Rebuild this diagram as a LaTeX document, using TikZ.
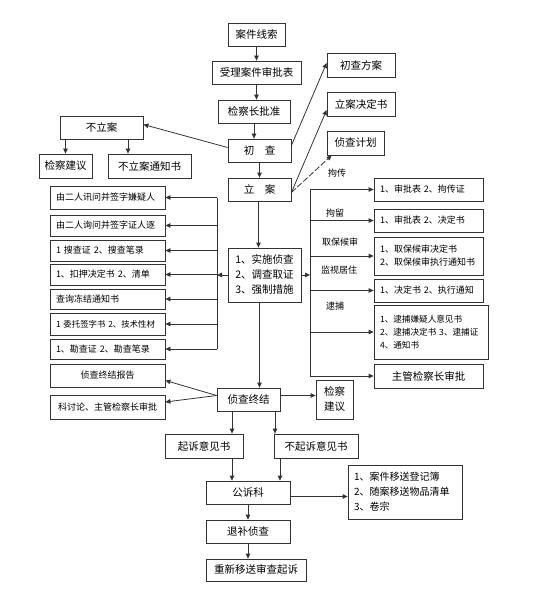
\documentclass[tikz,border=0pt]{standalone}
\usepackage{fontspec}
\setmainfont{Noto Sans CJK SC}
\usetikzlibrary{arrows.meta, calc}

\tikzset{
  box/.style={draw=black!80, line width=0.8pt, inner sep=2pt, align=center,
    font=\fontsize{10.5}{15}\selectfont},
  listbox/.style={box, align=left, inner xsep=6pt, font=\fontsize{9}{13}\selectfont},
  arr/.style={draw=black!80, line width=0.8pt, -{Triangle[length=5pt, width=4.5pt]}},
  bus/.style={draw=black!80, line width=0.8pt},
  tag/.style={font=\fontsize{9}{11}\selectfont, inner sep=1pt},
}

\begin{document}
\begin{tikzpicture}[x=1pt, y=-1pt]
\useasboundingbox (0,0) rectangle (535,604);

% main chain from the clue down to the filing
\node[box, minimum width=57, minimum height=23] (xiansuo) at (256.5,34.5) {案件线索};
\node[box, minimum width=89, minimum height=23] (shenpi) at (256.5,72.5) {受理案件审批表};
\node[box, minimum width=72, minimum height=23] (pizhun) at (254,111.5) {检察长批准};
\node[box, minimum width=63, minimum height=23] (chucha) at (259.5,150.5) {初\hspace{1em}查};
\node[box, minimum width=63, minimum height=23] (lian) at (259.5,189.5) {立\hspace{1em}案};

\draw[arr] (xiansuo) -- (shenpi);
\draw[arr] (shenpi.south) -- (shenpi.south |- pizhun.north);
\draw[arr] (pizhun.south) -- (pizhun.south |- chucha.north);
\draw[arr] (chucha) -- (lian);

% no filing
\node[box, minimum width=83, minimum height=23] (buli) at (101.5,127.5) {不立案};
\node[box, minimum width=53, minimum height=24] (jianyi1) at (65.5,166) {检察建议};
\node[box, minimum width=83, minimum height=24] (butongzhi) at (149.5,166) {不立案通知书};

\draw[arr] ([yshift=3pt]chucha.west) -- ([yshift=3pt]buli.east);
\draw[arr] (jianyi1.north |- buli.south) -- (jianyi1.north);
\coordinate (b2) at ($(buli.south)+(26.5,0)$);
\draw[arr] (b2) -- (b2 |- butongzhi.north);

% documents on the upper right
\node[box, minimum width=68, minimum height=24] (fangan) at (361,65) {初查方案};
\node[box, minimum width=68, minimum height=24] (juedingshu) at (361,104) {立案决定书};
\node[box, minimum width=57, minimum height=24] (jihua) at (355.5,143) {侦查计划};

\draw[arr] ([yshift=5pt]chucha.east) -- ([yshift=2pt]fangan.west);
\draw[arr] ([yshift=-3pt]lian.east) -- ([yshift=-6pt]juedingshu.west);
\draw[arr, dash pattern=on 6pt off 2pt] ([yshift=-3pt]lian.east) -- ([xshift=5pt]jihua.south west);

% investigation
\node[box, minimum width=73, minimum height=54] (shishi) at (264.5,275)
  {1、实施侦查\\2、调查取证\\3、强制措施};
\draw[arr] ([xshift=-1pt]lian.south) -- ([xshift=-1pt]lian.south |- shishi.north);

% left list of measures
\node[listbox, text width=103, minimum height=23] (l1) at (107.5,197.5) {由二人讯问并签字嫌疑人};
\node[listbox, text width=103, minimum height=21] (l2) at (107.5,225.5) {由二人询问并签字证人逐};
\node[listbox, text width=103, minimum height=21] (l3) at (107.5,250.5) {1~搜查证~2、搜查笔录};
\node[listbox, text width=103, minimum height=21] (l4) at (107.5,274.5) {1、扣押决定书~2、清单};
\node[listbox, text width=103, minimum height=20] (l5) at (107.5,299) {查询冻结通知书};
\node[listbox, text width=103, minimum height=22, font=\fontsize{8.4}{12}\selectfont] (l6) at (107.5,324) {1~委托签字书~2、技术性材};
\node[listbox, text width=103, minimum height=20] (l7) at (107.5,349) {1、勘查证~2、勘查笔录};

\coordinate (lbus) at (217,275);
\draw[arr] (shishi.west) -- (lbus);
\draw[bus] (lbus |- l1.east) -- (lbus |- l7.east);
\foreach \n in {l1,l2,l3,l4,l5,l6,l7}
  \draw[arr] (lbus |- \n.east) -- (\n.east);

% right list of compulsory measures
\node[listbox, text width=97, minimum height=23] (r1) at (428.5,189.5) {1、审批表~2、拘传证};
\node[listbox, text width=97, minimum height=23] (r2) at (428.5,220.5) {1、审批表~2、决定书};
\node[listbox, text width=97, minimum height=38] (r3) at (428.5,256)
  {1、取保候审决定书\\2、取保候审执行通知书};
\node[listbox, text width=97, minimum height=23] (r4) at (428.5,290.5) {1、决定书~2、执行通知};
\node[listbox, text width=102, minimum height=54, font=\fontsize{8.6}{13}\selectfont] (r5) at (431,332)
  {1、逮捕嫌疑人意见书\\2、逮捕决定书~3、逮捕证\\4、通知书};
\node[box, minimum width=109, minimum height=24] (r6) at (428.5,376) {主管检察长审批};

\node[tag] (t1) at (337,173) {拘传};
\node[tag] (t2) at (335,213) {拘留};
\node[tag] (t3) at (340,242) {取保候审};
\node[tag] (t4) at (339,270) {监视居住};
\node[tag] (t5) at (335,306) {逮捕};

\coordinate (rbus) at (310,275);
\draw[arr] (shishi.east) -- (rbus);
\draw[bus] (rbus |- r1.west) -- (rbus |- r6.west);
\foreach \n in {r1,r2,r3,r4,r5,r6}
  \draw[arr] (rbus |- \n.west) -- (\n.west);

% end of investigation
\node[box, minimum width=63, minimum height=23] (zhongjie) at (248.5,399.5) {侦查终结};
\node[box, minimum width=115, minimum height=23, font=\fontsize{9}{13}\selectfont] (baogao) at (107.5,375.5) {侦查终结报告};
\node[box, minimum width=115, minimum height=24, font=\fontsize{9}{13}\selectfont] (taolun) at (107.5,407) {科讨论、主管检察长审批};
\node[box, minimum width=37, minimum height=39] (jianyi2) at (334.5,399.5) {检察\\建议};

\draw[arr] ([xshift=-5pt]shishi.south) -- ([xshift=-5pt]shishi.south |- zhongjie.north);
\draw[arr] ([yshift=4pt]zhongjie.west) -- ([yshift=-5pt]baogao.east);
\draw[arr] ([yshift=4pt]zhongjie.west) -- ([yshift=5pt]taolun.east);
\draw[arr] ([yshift=4pt]zhongjie.east) -- ([yshift=4pt]zhongjie.east -| jianyi2.west);

% prosecution opinions
\node[box, minimum width=78, minimum height=24] (qisu) at (204,446) {起诉意见书};
\node[box, minimum width=84, minimum height=24] (buqisu) at (316,446) {不起诉意见书};
\draw[arr] ([xshift=-16.5pt]zhongjie.south) -- ([xshift=-16.5pt]zhongjie.south |- qisu.north);
\draw[arr] ([xshift=26.5pt]zhongjie.south) -- ([xshift=26.5pt]zhongjie.south |- buqisu.north);

% public prosecution section
\node[box, minimum width=84, minimum height=23] (gongsu) at (248,492.5) {公诉科};
\node[listbox, text width=102, minimum height=54, font=\fontsize{10}{15}\selectfont] (yisong) at (405,492)
  {1、案件移送登记簿\\2、随案移送物品清单\\3、卷宗};
\node[box, minimum width=84, minimum height=23] (tuibu) at (248,531.5) {退补侦查};
\node[box, minimum width=100, minimum height=22] (chongxin) at (256,570) {重新移送审查起诉};

\draw[arr] ([xshift=28pt]qisu.south) -- ([xshift=28pt]qisu.south |- gongsu.north);
\draw[arr] ([xshift=-36pt]buqisu.south) -- ([xshift=-36pt]buqisu.south |- gongsu.north);
\draw[arr] ([yshift=-4pt]gongsu.east) -- ([yshift=-4pt]gongsu.east -| yisong.west);
\draw[arr] (gongsu) -- (tuibu);
\draw[arr] (tuibu.south) -- (tuibu.south |- chongxin.north);

\end{tikzpicture}
\end{document}
